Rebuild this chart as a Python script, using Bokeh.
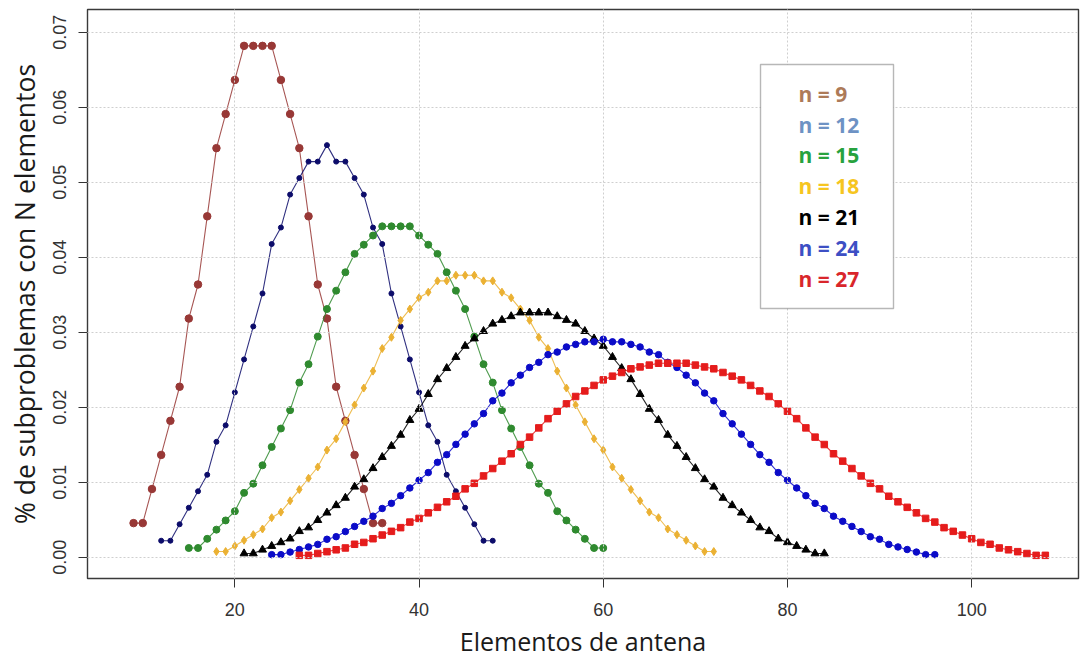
from bokeh.plotting import figure
from bokeh.models import Range1d, FixedTicker, PrintfTickFormatter, BoxAnnotation, Label
from bokeh.embed import file_html
from bokeh.resources import INLINE

# ---- data (counts per number of antenna elements) ----
n_values = [9, 12, 15, 18, 21, 24, 27]
x_start = [9, 12, 15, 18, 21, 24, 27]

counts_9 = [1, 1, 2, 3, 4, 5, 7, 8, 10, 12, 13, 14, 15, 15, 15, 15, 14, 13, 12, 10, 8, 7, 5, 4, 3, 2, 1, 1]
counts_12 = [1, 1, 2, 3, 4, 5, 7, 8, 10, 12, 14, 16, 19, 20, 22, 23, 24, 24, 25, 24, 24, 23, 22, 20, 19, 16,
             14, 12, 10, 8, 7, 5, 4, 3, 2, 1, 1]
counts_15 = [1, 1, 2, 3, 4, 5, 7, 8, 10, 12, 14, 16, 19, 21, 24, 27, 29, 31, 33, 34, 35, 36, 36, 36, 36, 35,
             34, 33, 31, 29, 27, 24, 21, 19, 16, 14, 12, 10, 8, 7, 5, 4, 3, 2, 1, 1]
counts_18 = [1, 1, 2, 3, 4, 5, 7, 8, 10, 12, 14, 16, 19, 21, 24, 27, 30, 33, 37, 39, 42, 44, 46, 47, 49, 49,
             50, 50, 50, 49, 49, 47, 46, 44, 42, 39, 37, 33, 30, 27, 24, 21, 19, 16, 14, 12, 10, 8, 7, 5, 4,
             3, 2, 1, 1]
counts_21 = [1, 1, 2, 3, 4, 5, 7, 8, 10, 12, 14, 16, 19, 21, 24, 27, 30, 33, 37, 40, 44, 48, 51, 54, 57, 59,
             61, 63, 64, 65, 66, 66, 66, 66, 65, 64, 63, 61, 59, 57, 54, 51, 48, 44, 40, 37, 33, 30, 27, 24,
             21, 19, 16, 14, 12, 10, 8, 7, 5, 4, 3, 2, 1, 1]
counts_24 = [1, 1, 2, 3, 4, 5, 7, 8, 10, 12, 14, 16, 19, 21, 24, 27, 30, 33, 37, 40, 44, 48, 52, 56, 61, 64,
             68, 71, 74, 76, 79, 80, 82, 83, 84, 84, 85, 84, 84, 83, 82, 80, 79, 76, 74, 71, 68, 64, 61, 56,
             52, 48, 44, 40, 37, 33, 30, 27, 24, 21, 19, 16, 14, 12, 10, 8, 7, 5, 4, 3, 2, 1, 1]
counts_27 = [1, 1, 2, 3, 4, 5, 7, 8, 10, 12, 14, 16, 19, 21, 24, 27, 30, 33, 37, 40, 44, 48, 52, 56, 61, 65,
             70, 75, 79, 83, 87, 90, 93, 96, 98, 100, 102, 103, 104, 105, 105, 105, 105, 104, 103, 102, 100,
             98, 96, 93, 90, 87, 83, 79, 75, 70, 65, 61, 56, 52, 48, 44, 40, 37, 33, 30, 27, 24, 21, 19, 16,
             14, 12, 10, 8, 7, 5, 4, 3, 2, 1, 1]
all_counts = [counts_9, counts_12, counts_15, counts_18, counts_21, counts_24, counts_27]

x_ticks = [20, 40, 60, 80, 100]
y_ticks = [0.0, 0.01, 0.02, 0.03, 0.04, 0.05, 0.06, 0.07]
legend_labels = ["n = 9", "n = 12", "n = 15", "n = 18", "n = 21", "n = 24", "n = 27"]
x_title = "Elementos de antena"
y_title = "% de subproblemas con N elementos"

# ---- styles ----
series_colors = ["#983836", "#0c0c6a", "#2f8a2f", "#ebb133", "#000000", "#0b0bc8", "#e51c1c"]
series_markers = ["circle", "circle", "circle", "diamond", "triangle", "circle", "square"]
series_sizes = [7.5, 5, 7, 8, 8, 6.5, 6.5]
legend_colors = ["#ad7a58", "#6d92c4", "#27a23e", "#f6c520", "#000000", "#3d4fc4", "#d9262b"]

AXIS_FONT = "'Liberation Sans Narrow', 'Liberation Sans', sans-serif"
TITLE_FONT = "Open Sans"

X0, X1 = 4.0, 111.6
Y0, Y1 = -0.00284, 0.07303
p = figure(width=1084, height=662, output_backend="svg", toolbar_location=None,
           x_range=Range1d(X0, X1), y_range=Range1d(Y0, Y1),
           min_border_left=87, min_border_right=6, min_border_top=9, min_border_bottom=84)

p.background_fill_color = "white"
p.border_fill_color = "white"
p.outline_line_color = "#3a3a3a"
p.outline_line_width = 1.4

for ax in (p.xaxis[0], p.yaxis[0]):
    ax.axis_line_color = None
    ax.major_tick_line_color = "#333333"
    ax.major_tick_out = 9
    ax.major_tick_in = 0
    ax.minor_tick_line_color = None
    ax.major_label_text_font = AXIS_FONT
    ax.major_label_text_font_size = "18px"
    ax.major_label_text_color = "#333333"
    ax.axis_label_text_font = TITLE_FONT
    ax.axis_label_text_font_style = "normal"
    ax.axis_label_text_color = "#1a1a1a"

p.xaxis.ticker = FixedTicker(ticks=x_ticks)
p.yaxis.ticker = FixedTicker(ticks=y_ticks)
p.yaxis.formatter = PrintfTickFormatter(format="%.2f")
p.yaxis.major_label_orientation = "vertical"
p.xaxis.major_label_standoff = 15
p.yaxis.major_label_standoff = 12
p.xaxis.axis_label = x_title
p.yaxis.axis_label = y_title
p.xaxis.axis_label_text_font_size = "25px"
p.yaxis.axis_label_text_font_size = "26.5px"
p.xaxis.axis_label_standoff = 5
p.yaxis.axis_label_standoff = 8

p.xgrid.ticker = FixedTicker(ticks=x_ticks)
p.ygrid.ticker = FixedTicker(ticks=y_ticks)
for g in (p.xgrid[0], p.ygrid[0]):
    g.grid_line_color = "#cfcfcf"
    g.grid_line_dash = "2 2"
    g.grid_line_width = 1
    g.level = "guide"

for start, counts, col, mk, sz in zip(x_start, all_counts, series_colors, series_markers, series_sizes):
    total = float(sum(counts))
    xs = [start + i for i in range(len(counts))]
    ys = [c / total for c in counts]
    p.line(xs, ys, line_color=col, line_width=1.1, line_alpha=0.85)
    p.scatter(xs, ys, marker=mk, size=sz, fill_color=col, line_color=col)

# pixel -> data helpers for placing the legend (frame spans px 87..1078 x 9..578)
FL, FR, FT, FB = 87.0, 1078.0, 9.0, 578.0
def dx(px):
    return X0 + (px - FL) / (FR - FL) * (X1 - X0)
def dy(py):
    return Y0 + (FB - py) / (FB - FT) * (Y1 - Y0)

# ---- legend box (text-only legend) ----
p.add_layout(BoxAnnotation(left=dx(760), right=dx(893), top=dy(64), bottom=dy(308),
                           fill_color="white", fill_alpha=1.0, line_color="#111111", line_width=1.4))
for i, (lab, col) in enumerate(zip(legend_labels, legend_colors)):
    p.add_layout(Label(x=dx(798), y=dy(93.3 + i * 30.8), text=lab, text_color=col,
                       text_font=TITLE_FONT, text_font_style="bold", text_font_size="21px",
                       text_baseline="middle", text_align="left"))

open("out.html", "w").write(file_html(p, INLINE))
